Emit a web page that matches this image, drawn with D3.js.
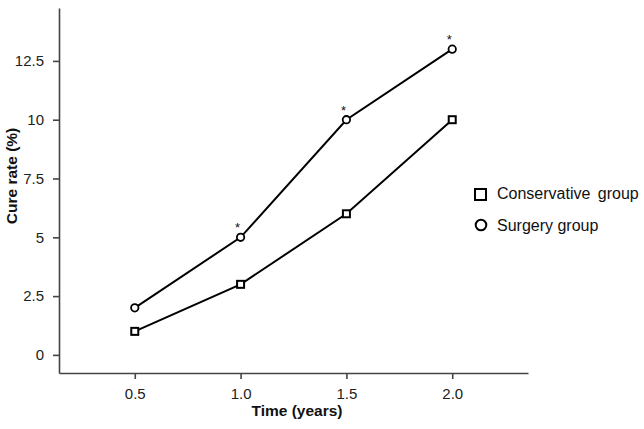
<!DOCTYPE html>
<html lang="en">
<head>
<meta charset="utf-8" />
<title>Cure rate over time</title>
<style>
   body { margin:0; background:#fff; }
   text { font-family:"Liberation Sans",Arial,sans-serif; fill:#111; }
   .axis path, .axis line { stroke:#444; stroke-width:1.6; }
   .axis text { font-size:15px; fill:#222; }
</style>
<script src="https://d3js.org/d3.v7.min.js"></script>
</head>
<body>
<svg id="main" width="644" height="429"></svg>
<script>
// data
var times = [0.5, 1.0, 1.5, 2.0];
var conservative = [1, 3, 6, 10];
var surgery = [2, 5, 10, 13];
var significant = [false, true, true, true]; // asterisks on surgery points
var xTicks = [0.5, 1.0, 1.5, 2.0];
var yTicks = [0, 2.5, 5, 7.5, 10, 12.5];
var seriesNames = ['Conservative group', 'Surgery group'];

var svg = d3.select('#main');
var x = d3.scaleLinear().domain([0.142, 2.358]).range([59, 528]);
var y = d3.scaleLinear().domain([-0.77, 14.75]).range([373, 8]);

svg.append('g').attr('class','axis')
   .attr('transform','translate(0,373)')
   .call(d3.axisBottom(x).tickValues(xTicks).tickFormat(d3.format('.1f')).tickSize(6).tickSizeOuter(0).tickPadding(9));
svg.append('g').attr('class','axis')
   .attr('transform','translate(59,0)')
   .call(d3.axisLeft(y).tickValues(yTicks).tickFormat(d3.format('~g')).tickSize(6).tickSizeOuter(0).tickPadding(9));

svg.append('text').attr('x',297).attr('y',416).attr('text-anchor','middle')
   .style('font-size','15.5px').style('font-weight','bold').text('Time (years)');
svg.append('text').attr('transform','translate(17,176) rotate(-90)').attr('text-anchor','middle')
   .style('font-size','15.5px').style('font-weight','bold').text('Cure rate (%)');

var line = d3.line().x(function(d){ return x(d[0]); }).y(function(d){ return y(d[1]); });
var consPts = d3.zip(times, conservative);
var surgPts = d3.zip(times, surgery);

[consPts, surgPts].forEach(function(pts){
   svg.append('path').datum(pts).attr('d',line)
      .attr('fill','none').attr('stroke','#000').attr('stroke-width',2);
});

svg.selectAll('rect.pt').data(consPts).enter().append('rect').attr('class','pt')
   .attr('x',function(d){ return x(d[0])-3.5; }).attr('y',function(d){ return y(d[1])-3.5; })
   .attr('width',7).attr('height',7)
   .attr('fill','#fff').attr('stroke','#000').attr('stroke-width',2);
svg.selectAll('circle.pt').data(surgPts).enter().append('circle').attr('class','pt')
   .attr('cx',function(d){ return x(d[0]); }).attr('cy',function(d){ return y(d[1]); })
   .attr('r',3.7)
   .attr('fill','#fff').attr('stroke','#000').attr('stroke-width',1.8);

svg.selectAll('text.star').data(surgPts.filter(function(d,i){ return significant[i]; }))
   .enter().append('text').attr('class','star')
   .attr('x',function(d){ return x(d[0])-3; }).attr('y',function(d){ return y(d[1])-5; })
   .attr('text-anchor','middle').style('font-size','13px').text('*');

// legend
var lg = svg.append('g').attr('transform','translate(475,189)');
lg.append('rect').attr('x',0).attr('y',0).attr('width',11).attr('height',11)
   .attr('fill','#fff').attr('stroke','#000').attr('stroke-width',2);
lg.append('circle').attr('cx',6).attr('cy',36).attr('r',5.3)
   .attr('fill','#fff').attr('stroke','#000').attr('stroke-width',2);
lg.selectAll('text.lg').data(seriesNames).enter().append('text').attr('class','lg')
   .attr('x',22).attr('y',function(d,i){ return i*32+10; })
   .style('font-size','16px').style('word-spacing',function(d,i){ return i===0?'3px':'0px'; })
   .text(function(d){ return d; });
</script>
</body>
</html>
